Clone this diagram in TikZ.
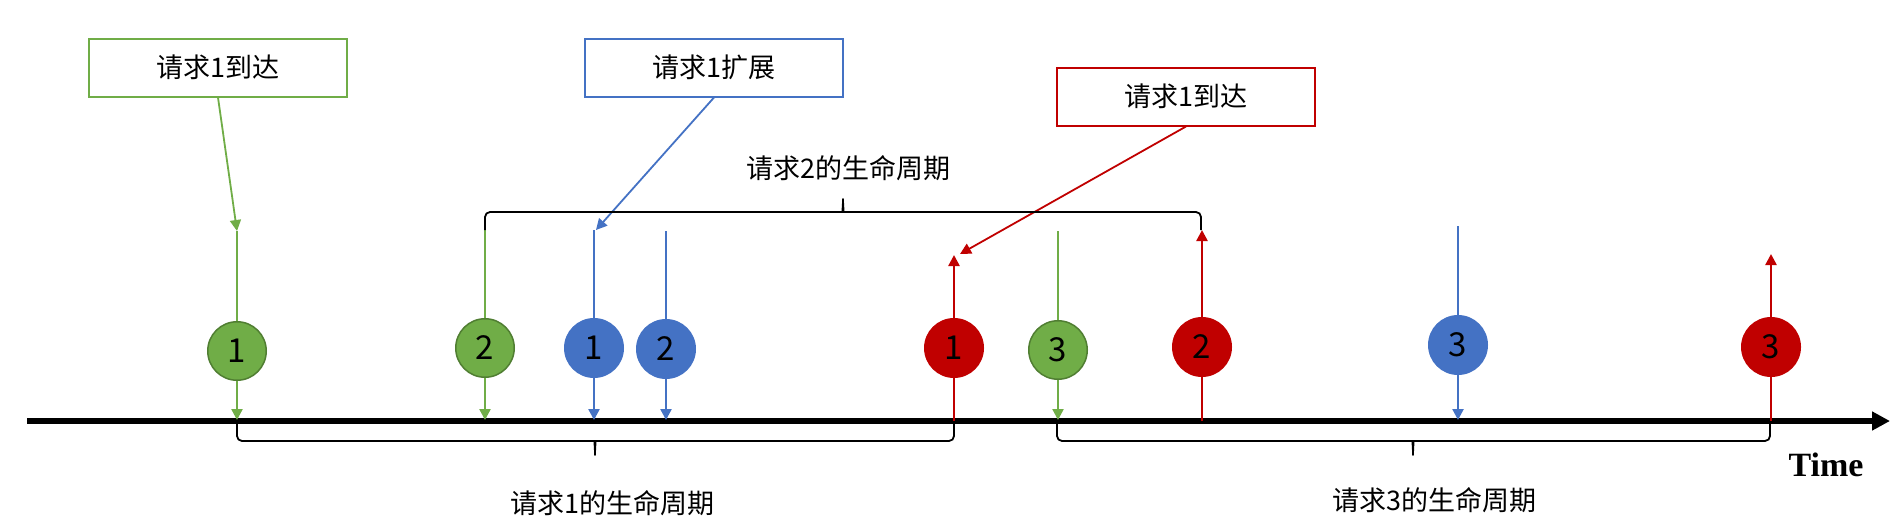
\documentclass[tikz,border=0pt]{standalone}
\usepackage{fontspec}
\setmainfont{Liberation Serif}
\newfontfamily\cjk{Noto Sans CJK SC}
\usetikzlibrary{arrows.meta}
\definecolor{cgreen}{HTML}{70AD47}
\definecolor{cgreendark}{HTML}{507E32}
\definecolor{cblue}{HTML}{4472C4}
\definecolor{cred}{HTML}{C00000}
\begin{document}
\begin{tikzpicture}[x=1pt,y=-1pt,
  ev/.style={circle, minimum size=60pt, inner sep=0pt, font=\cjk\fontsize{33}{33}\selectfont, text=black},
  gev/.style={ev, fill=cgreen, draw=cgreendark, line width=1.5pt, minimum size=58.5pt},
  bev/.style={ev, fill=cblue},
  rev/.style={ev, fill=cred},
  tipd/.style={-{Triangle[length=11pt,width=11pt]}},
  gline/.style={draw=cgreen, line width=2.4pt},
  bline/.style={draw=cblue, line width=2.4pt},
  rline/.style={draw=cred, line width=2.4pt},
  callbox/.style={draw, line width=2pt, minimum width=258pt, minimum height=58pt, inner sep=0pt, fill=white, font=\cjk\fontsize{27}{32}\selectfont},
  lbl/.style={font=\cjk\fontsize{27}{32}\selectfont, inner sep=0pt},
  bracestyle/.style={draw=black, line width=1.8pt, line join=round}
]
\useasboundingbox (0,0) rectangle (1897,530);

% timeline
\coordinate (t0) at (27,421);
\coordinate (t1) at (1890,421);
\draw[line width=5.5pt, -{Triangle[length=18pt,width=18pt]}] (t0) -- (t1);
\node[font=\bfseries\fontsize{34}{40}\selectfont, inner sep=0pt] (time) at (1826,465) {Time};

% event circles
\node[gev] (g1) at (237,351) {1};
\node[gev] (g2) at (485,348) {2};
\node[bev] (b1) at (594,348) {1};
\node[bev] (b2) at (666,349) {2};
\node[rev] (r1) at (954,348) {1};
\node[gev] (g3) at (1058,350) {3};
\node[rev] (r2) at (1202,347) {2};
\node[bev] (b3) at (1458,345) {3};
\node[rev] (r3) at (1771,347) {3};

% top / bottom points
\coordinate (g1t) at (237,231);  \coordinate (g1b) at (237,420);
\coordinate (g2t) at (485,230);  \coordinate (g2b) at (485,420);
\coordinate (b1t) at (594,230);  \coordinate (b1b) at (594,420);
\coordinate (b2t) at (666,231);  \coordinate (b2b) at (666,420);
\coordinate (r1t) at (954,255);  \coordinate (r1b) at (954,421);
\coordinate (g3t) at (1058,231); \coordinate (g3b) at (1058,420);
\coordinate (r2t) at (1202,230); \coordinate (r2b) at (1202,421);
\coordinate (b3t) at (1458,226); \coordinate (b3b) at (1458,420);
\coordinate (r3t) at (1771,254); \coordinate (r3b) at (1771,421);

% green (arrive) arrows
\draw[gline] (g1t) -- (g1);  \draw[gline,tipd] (g1) -- (g1b);
\draw[gline] (g2t) -- (g2);  \draw[gline,tipd] (g2) -- (g2b);
\draw[gline] (g3t) -- (g3);  \draw[gline,tipd] (g3) -- (g3b);
% blue arrows
\draw[bline] (b1t) -- (b1);  \draw[bline,tipd] (b1) -- (b1b);
\draw[bline] (b2t) -- (b2);  \draw[bline,tipd] (b2) -- (b2b);
\draw[bline] (b3t) -- (b3);  \draw[bline,tipd] (b3) -- (b3b);
% red arrows (up)
\draw[rline] (r1b) -- (r1);  \draw[rline,tipd] (r1) -- (r1t);
\draw[rline] (r2b) -- (r2);  \draw[rline,tipd] (r2) -- (r2t);
\draw[rline] (r3b) -- (r3);  \draw[rline,tipd] (r3) -- (r3t);

% callout boxes
\node[callbox, draw=cgreen] (boxg) at (218,67.5) {请求1到达};
\node[callbox, draw=cblue] (boxb) at (714,67.5) {请求1扩展};
\node[callbox, draw=cred] (boxr) at (1186,96.5) {请求1到达};
\coordinate (r1c) at (960,254);
\coordinate (b1c) at (596,230);
\draw[gline, line width=1.8pt, tipd] (boxg.south) -- (g1t);
\draw[bline, line width=1.8pt, tipd] (boxb.south) -- (b1c);
\draw[rline, line width=1.8pt, tipd] (boxr.south) -- (r1c);

% braces
\draw[bracestyle, rounded corners=5pt] (485,230) -- (485,212) -- (838,212)
  .. controls (842,212) and (843,205) .. (843,196)
  .. controls (843,205) and (844,212) .. (848,212) -- (1201,212) -- (1201,230);
\draw[bracestyle, rounded corners=5pt] (237,423) -- (237,441) -- (590,441)
  .. controls (594,441) and (595,448) .. (595,458)
  .. controls (595,448) and (596,441) .. (600,441) -- (954,441) -- (954,423);
\draw[bracestyle, rounded corners=5pt] (1057,423) -- (1057,441) -- (1408,441)
  .. controls (1412,441) and (1413,448) .. (1413,458)
  .. controls (1413,448) and (1414,441) .. (1418,441) -- (1770,441) -- (1770,423);

% lifecycle labels
\node[lbl] (l2) at (848,168) {请求2的生命周期};
\node[lbl] (l1) at (612,503) {请求1的生命周期};
\node[lbl] (l3) at (1434,500) {请求3的生命周期};
\end{tikzpicture}
\end{document}
